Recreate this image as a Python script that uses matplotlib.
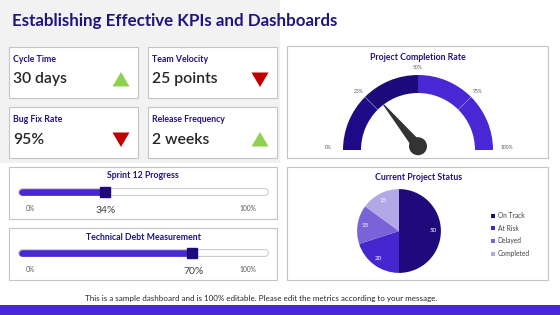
import matplotlib
matplotlib.use("Agg")
import matplotlib.pyplot as plt
from matplotlib.patches import Rectangle, Polygon, Wedge, Circle
import numpy as np

plt.rcParams['font.family'] = ['Lato', 'DejaVu Sans']

# data
kpi_names = ['Cycle Time', 'Team Velocity', 'Bug Fix Rate', 'Release Frequency']
kpi_values = ['30 days', '25 points', '95%', '2 weeks']
kpi_trend = ['up', 'down', 'down', 'up']

progress_names = ['Sprint 12 Progress', 'Technical Debt Measurement']
progress_values = [34, 70]

gauge_bands = [25, 25, 25, 25]
gauge_ticks = [0, 25, 50, 75, 100]
gauge_value = 28

status_labels = ['On Track', 'At Risk', 'Delayed', 'Completed']
status_values = [50, 20, 15, 15]

NAVY = '#1f0a7c'
PURPLE = '#4a27d4'
TITLE_C = '#20157a'
BORDER = '#c4c4c4'
W, H = 560, 315

fig = plt.figure(figsize=(W / 100, H / 100), dpi=100)
fig.patch.set_facecolor('white')
ax = fig.add_axes([0, 0, 1, 1])
ax.set_xlim(0, W)
ax.set_ylim(H, 0)
ax.axis('off')


def px_axes(x0, y0, x1, y1):
    a = fig.add_axes([x0 / W, 1 - y1 / H, (x1 - x0) / W, (y1 - y0) / H])
    a.axis('off')
    return a


def box(x0, y0, x1, y1):
    ax.add_patch(Rectangle((x0, y0), x1 - x0, y1 - y0, facecolor='white',
                           edgecolor=BORDER, lw=0.8))


# background and title
ax.add_patch(Rectangle((0, 0), 280, 163, facecolor='#f2f2f2', edgecolor='none'))
ax.text(12, 21, 'Establishing Effective KPIs and Dashboards', fontsize=12.2,
        fontweight='bold', color=TITLE_C, va='center', ha='left')

# KPI cards
card_pos = [(9, 47), (148, 47), (9, 107), (148, 107)]
for (x0, y0), name, val, trend in zip(card_pos, kpi_names, kpi_values, kpi_trend):
    box(x0, y0, x0 + 129, y0 + 51)
    ax.text(x0 + 4, y0 + 13, name, fontsize=6.3, fontweight='bold', color=TITLE_C,
            va='center', ha='left')
    ax.text(x0 + 4, y0 + 32.5, val, fontsize=11.3, fontweight='semibold', color='#262626',
            va='center', ha='left')
    cx, cy = x0 + 112, y0 + 32.5
    if trend == 'up':
        tri = [(cx - 8.5, cy + 7), (cx + 8.5, cy + 7), (cx, cy - 7.5)]
        col = '#8fd14f'
    else:
        tri = [(cx - 8.5, cy - 7), (cx + 8.5, cy - 7), (cx, cy + 7.5)]
        col = '#c00000'
    ax.add_patch(Polygon(tri, closed=True, facecolor=col, edgecolor='none'))

# progress sliders
for i, (name, v) in enumerate(zip(progress_names, progress_values)):
    y0 = 167 + i * 61
    box(9, y0, 277, y0 + 52)
    ax.text(143, y0 + 9, name, fontsize=6.3, fontweight='bold', color=TITLE_C,
            va='center', ha='center')
    cy = y0 + 25
    pa = px_axes(22, cy - 7, 265, cy + 7)
    pa.set_xlim(0, 100)
    pa.set_ylim(-1, 1)
    pa.plot([0, 100], [0, 0], color='#bdbdbd', lw=5.4, solid_capstyle='round', clip_on=False)
    pa.plot([0, 100], [0, 0], color='white', lw=4.2, solid_capstyle='round', clip_on=False)
    pa.plot([0, v], [0, 0], color=PURPLE, lw=4.8, solid_capstyle='round', clip_on=False)
    pa.plot([v], [0], marker='s', ms=7.5, color=NAVY, clip_on=False)
    pa.text(3.3, -2.3, '0%', fontsize=4.8, color='#595959', ha='center', va='center')
    pa.text(93, -2.3, '100%', fontsize=4.8, color='#595959', ha='center', va='center')
    pa.text(v + 0.5, -2.6, f'{v}%', fontsize=7.5, color='#404040', ha='center', va='center')

# gauge
box(287, 46, 548, 158)
ax.text(418, 57, 'Project Completion Rate', fontsize=6.3, fontweight='bold',
        color=TITLE_C, va='center', ha='center')
ga = px_axes(333, 62, 503, 160)
ga.set_xlim(-85 / 75, 85 / 75)
ga.set_ylim(-10 / 75, 88 / 75)
band_colors = ['#1e0a86', '#1d0a7a', PURPLE, PURPLE]
start = 0
for b, c in zip(gauge_bands, band_colors):
    t1 = 180 - start * 1.8
    t0 = 180 - (start + b) * 1.8
    ga.add_patch(Wedge((0, 0), 1.0, t0, t1, width=0.24, facecolor=c, edgecolor='none'))
    start += b
for t in gauge_ticks[1:-1]:
    a = np.radians(180 - t * 1.8)
    if t != 50:
        ga.plot([0.76 * np.cos(a), np.cos(a)], [0.76 * np.sin(a), np.sin(a)],
                color='#9a93c8', lw=0.4)
for t in gauge_ticks:
    a = np.radians(180 - t * 1.8)
    if t in (0, 100):
        x, y = 1.19 * np.cos(a), 0.03
    else:
        x, y = 1.12 * np.cos(a), 1.1 * np.sin(a)
    ga.text(x, y, f'{t}%', fontsize=3.6, color='#595959', ha='center', va='center')
a = np.radians(180 - gauge_value * 1.8)
perp = a + np.pi / 2
hub_y = 0.05
needle = [(0.07 * np.cos(perp), hub_y + 0.07 * np.sin(perp)),
          (0.72 * np.cos(a) + 0.008 * np.cos(perp), hub_y + 0.72 * np.sin(a) + 0.008 * np.sin(perp)),
          (0.72 * np.cos(a) - 0.008 * np.cos(perp), hub_y + 0.72 * np.sin(a) - 0.008 * np.sin(perp)),
          (-0.07 * np.cos(perp), hub_y - 0.07 * np.sin(perp))]
ga.add_patch(Polygon(needle, closed=True, facecolor='#333333', edgecolor='none'))
ga.add_patch(Circle((0, hub_y), 0.12, facecolor='#333333', edgecolor='none'))

# pie
box(287, 167, 548, 280)
ax.text(419, 177, 'Current Project Status', fontsize=6.3, fontweight='bold',
        color=TITLE_C, va='center', ha='center')
pie_ax = px_axes(355, 187, 443, 275)
total = sum(status_values)
wedges, _, autotexts = pie_ax.pie(status_values, startangle=90, counterclock=False,
                                  colors=[NAVY, '#4527d0', '#7a62d8', '#b3a8e6'],
                                  autopct=lambda p: f'{p * total / 100:.0f}',
                                  pctdistance=0.82,
                                  textprops=dict(color='white', fontsize=4.5))
pie_ax.set_xlim(-1.05, 1.05)
pie_ax.set_ylim(-1.05, 1.05)
pie_ax.set_aspect('equal')
fig.legend(wedges, status_labels, loc='upper left',
           bbox_to_anchor=(485 / W, 1 - 206 / H), frameon=False, fontsize=4.8,
           handlelength=0.6, handleheight=0.6, handletextpad=0.4, labelspacing=0.85,
           labelcolor='#404040')

# footer
ax.text(261, 298, 'This is a sample dashboard and is 100% editable. Please edit the metrics '
        'according to your message.', fontsize=5.8, color='#262626', ha='center', va='center')
ax.add_patch(Rectangle((0, 305), W, 10, facecolor=PURPLE, edgecolor='none'))

fig.savefig('out.png', dpi=100)
